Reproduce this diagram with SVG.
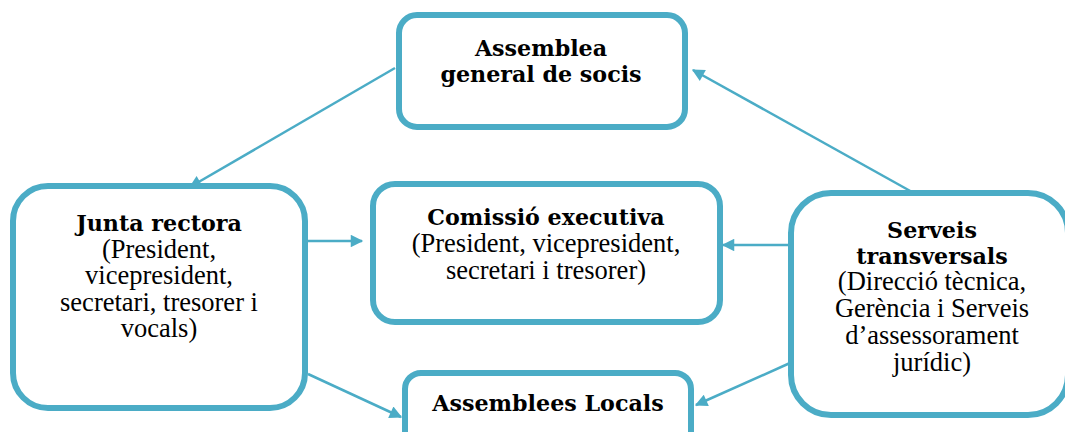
<svg xmlns="http://www.w3.org/2000/svg" width="1065" height="432" viewBox="0 0 1065 432">
<defs>
<style>
.box{fill:#fff;stroke:#4bacc6;stroke-width:6}
.b{font-family:"DejaVu Serif",Georgia,serif;font-weight:bold;font-size:22.2px;fill:#000;text-anchor:middle}
.r{font-family:"Liberation Serif","Times New Roman",serif;font-size:26.5px;fill:#000;text-anchor:middle}
.c{stroke:#4bacc6;stroke-width:2.5;fill:none;marker-end:url(#ah)}
</style>
<marker id="ah" viewBox="0 0 10 10" refX="9" refY="5" markerWidth="6" markerHeight="5" markerUnits="strokeWidth" orient="auto">
<path d="M0,0 L10,5 L0,10 z" fill="#4bacc6"/>
</marker>
</defs>
<g id="connectors">
<line class="c" x1="395" y1="68" x2="190" y2="187"/>
<line class="c" x1="930" y1="202" x2="693" y2="70"/>
<line class="c" x1="308" y1="241" x2="362" y2="241"/>
<line class="c" x1="788" y1="245" x2="723" y2="245"/>
<line class="c" x1="308" y1="374" x2="401" y2="417"/>
<line class="c" x1="790" y1="363" x2="696" y2="405"/>
</g>
<g id="assemblea">
<rect class="box" x="399" y="15" width="286" height="112" rx="18"/>
<text class="b" x="541" y="56">Assemblea</text>
<text class="b" x="541" y="82">general de socis</text>
</g>
<g id="junta">
<rect class="box" x="13" y="186" width="292" height="222" rx="35"/>
<text class="b" x="159" y="231">Junta rectora</text>
<text class="r" x="159" y="258">(President,</text>
<text class="r" x="159" y="284">vicepresident,</text>
<text class="r" x="159" y="311">secretari, tresorer i</text>
<text class="r" x="159" y="337">vocals)</text>
</g>
<g id="comissio">
<rect class="box" x="373" y="184" width="347" height="138" rx="22"/>
<text class="b" x="546" y="225">Comissió executiva</text>
<text class="r" x="546" y="252">(President, vicepresident,</text>
<text class="r" x="546" y="279">secretari i tresorer)</text>
</g>
<g id="serveis">
<rect class="box" x="791" y="193" width="277" height="222" rx="40"/>
<text class="b" x="932" y="238">Serveis</text>
<text class="b" x="932" y="264">transversals</text>
<text class="r" x="932" y="290">(Direcció tècnica,</text>
<text class="r" x="932" y="317">Gerència i Serveis</text>
<text class="r" x="932" y="344">d’assessorament</text>
<text class="r" x="932" y="371">jurídic)</text>
</g>
<g id="locals">
<rect class="box" x="405" y="373" width="286" height="80" rx="16"/>
<text class="b" x="548" y="411">Assemblees Locals</text>
</g>
</svg>
